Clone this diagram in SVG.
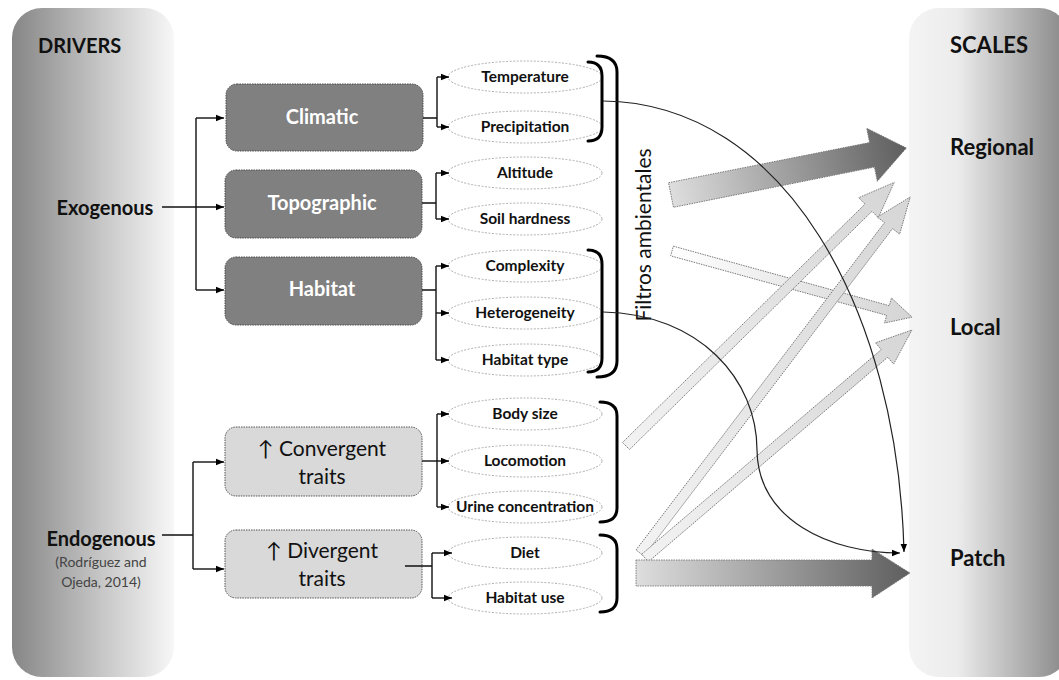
<svg xmlns="http://www.w3.org/2000/svg" width="1059" height="680" viewBox="0 0 1059 680">
<defs>
<linearGradient id="gLeft" x1="0" y1="0" x2="1" y2="0"><stop offset="0" stop-color="#868686"/><stop offset="0.55" stop-color="#c6c6c6"/><stop offset="1" stop-color="#f7f7f7"/></linearGradient>
<linearGradient id="gRight" x1="0" y1="0" x2="1" y2="0"><stop offset="0" stop-color="#f4f4f4"/><stop offset="0.3" stop-color="#ececec"/><stop offset="1" stop-color="#868686"/></linearGradient>
<linearGradient id="gDark" x1="0" y1="0" x2="1" y2="0"><stop offset="0" stop-color="#dedede"/><stop offset="1" stop-color="#5e5e5e"/></linearGradient>
<linearGradient id="gLight" x1="0" y1="0" x2="1" y2="0"><stop offset="0" stop-color="#ffffff"/><stop offset="1" stop-color="#d4d4d4"/></linearGradient>
<linearGradient id="gPale" x1="0" y1="0" x2="1" y2="0"><stop offset="0" stop-color="#f2f2f2"/><stop offset="1" stop-color="#d6d6d6"/></linearGradient>
<marker id="ah" viewBox="0 0 10 10" refX="10" refY="5" markerWidth="8" markerHeight="8" orient="auto" markerUnits="userSpaceOnUse"><path d="M0,1 L10,5 L0,9 z" fill="#000"/></marker>
</defs>
<style>
text{font-family:Lato,"Liberation Sans",sans-serif}
.hd{font-size:20px;font-weight:bold;fill:#111}
.sc{font-size:22px;font-weight:bold;fill:#111}
.dk rect{fill:#808080;stroke:#4a4a4a;stroke-width:1;stroke-dasharray:1.5,1}
.dk text{font-size:20px;font-weight:bold;fill:#fff;text-anchor:middle}
.lt rect{fill:#d9d9d9;stroke:#555;stroke-width:1;stroke-dasharray:1.5,1}
.lt text{font-size:21px;fill:#111;text-anchor:middle}
.el ellipse{fill:#fff;stroke:#b0b0b0;stroke-width:1;stroke-dasharray:2,1.5}
.el text{font-size:15.5px;font-weight:bold;fill:#111;text-anchor:middle}
.ln{fill:none;stroke:#111;stroke-width:1.4}
.br{fill:none;stroke:#000;stroke-width:3;stroke-linecap:round}
.fl{stroke:#777;stroke-width:0.9;stroke-dasharray:1.5,1}
.cv{fill:none;stroke:#222;stroke-width:1.2}
</style>
<rect x="0" y="0" width="1059" height="680" fill="#fff"/>
<g id="drivers-panel"><rect x="12" y="8" width="162" height="669" rx="30" fill="url(#gLeft)"/><text class="hd" x="38" y="53">DRIVERS</text></g>
<g id="scales-panel"><rect x="909" y="8" width="160" height="669" rx="30" fill="url(#gRight)"/><text class="sc" x="950" y="53" font-size="21">SCALES</text></g>
<g id="regional"><text class="sc" x="950" y="155">Regional</text></g>
<g id="local"><text class="sc" x="950" y="335">Local</text></g>
<g id="patch"><text class="sc" x="950" y="566">Patch</text></g>
<g id="exogenous"><text class="hd" x="105" y="215" text-anchor="middle">Exogenous</text></g>
<g id="endogenous"><text class="hd" x="101" y="546" text-anchor="middle">Endogenous</text><text x="101" y="567" text-anchor="middle" font-size="14" fill="#444">(Rodríguez and</text><text x="101" y="587" text-anchor="middle" font-size="14" fill="#444">Ojeda, 2014)</text></g>
<g id="climatic" class="dk"><rect x="226" y="84" width="197" height="67" rx="11"/><text x="322" y="124">Climatic</text></g>
<g id="topographic" class="dk"><rect x="225" y="170" width="197" height="68" rx="11"/><text x="322" y="210">Topographic</text></g>
<g id="habitat" class="dk"><rect x="225" y="257" width="197" height="68" rx="11"/><text x="322" y="296">Habitat</text></g>
<g id="convergent" class="lt"><rect x="225" y="427" width="197" height="69" rx="11"/><text x="322" y="456">↑ Convergent</text><text x="322" y="484">traits</text></g>
<g id="divergent" class="lt"><rect x="225" y="530" width="197" height="68" rx="11"/><text x="322" y="558">↑ Divergent</text><text x="322" y="586">traits</text></g>
<g id="temperature" class="el"><ellipse cx="525" cy="77" rx="77" ry="16"/><text x="525" y="82">Temperature</text></g>
<g id="precipitation" class="el"><ellipse cx="525" cy="127" rx="77" ry="16"/><text x="525" y="132">Precipitation</text></g>
<g id="altitude" class="el"><ellipse cx="525" cy="173" rx="77" ry="16"/><text x="525" y="178">Altitude</text></g>
<g id="soil-hardness" class="el"><ellipse cx="525" cy="219" rx="77" ry="16"/><text x="525" y="224">Soil hardness</text></g>
<g id="complexity" class="el"><ellipse cx="525" cy="266" rx="77" ry="16"/><text x="525" y="271">Complexity</text></g>
<g id="heterogeneity" class="el"><ellipse cx="525" cy="313" rx="77" ry="16"/><text x="525" y="318">Heterogeneity</text></g>
<g id="habitat-type" class="el"><ellipse cx="525" cy="360" rx="77" ry="16"/><text x="525" y="365">Habitat type</text></g>
<g id="body-size" class="el"><ellipse cx="525" cy="414" rx="77" ry="16"/><text x="525" y="419">Body size</text></g>
<g id="locomotion" class="el"><ellipse cx="525" cy="461" rx="77" ry="16"/><text x="525" y="466">Locomotion</text></g>
<g id="urine" class="el"><ellipse cx="525" cy="507" rx="77" ry="16"/><text x="525" y="512">Urine concentration</text></g>
<g id="diet" class="el"><ellipse cx="525" cy="553" rx="77" ry="16"/><text x="525" y="558">Diet</text></g>
<g id="habitat-use" class="el"><ellipse cx="525" cy="598" rx="77" ry="16"/><text x="525" y="603">Habitat use</text></g>
<g id="braces">
<path class="br" d="M588,62 Q602,62 602,76 V127 Q602,141 588,141"/>
<path class="br" d="M597,56 Q617,56 617,72 V361 Q617,377 597,377"/>
<path class="br" d="M588,250 Q602,250 602,264 V358 Q602,372 588,372"/>
<path class="br" d="M600,402 Q617,402 617,416 V508 Q617,522 600,522"/>
<path class="br" d="M600,535 Q617,535 617,549 V598 Q617,612 600,612"/>
</g>
<g id="filtros"><text x="0" y="0" font-size="21" fill="#111" text-anchor="middle" transform="translate(651,235) rotate(-90)">Filtros ambientales</text></g>
<g id="flows">
<polygon class="fl" fill="url(#gDark)" points="0,-12.5 205,-12.5 205,-27 240,0 205,27 205,12.5 0,12.5" transform="translate(671,195) rotate(-11.3)"/>
<polygon class="fl" fill="url(#gLight)" points="0,-5 224,-5 224,-13 249,0 224,13 224,5 0,5" transform="translate(672,251) rotate(15.4)"/>
<polygon class="fl" fill="url(#gPale)" points="0,-5 340,-5 340,-14 376,0 340,14 340,5 0,5" transform="translate(626,446) rotate(-44.5)"/>
<polygon class="fl" fill="url(#gPale)" points="0,-5 411,-5 411,-14 447,0 411,14 411,5 0,5" transform="translate(640,553) rotate(-52.8)"/>
<polygon class="fl" fill="url(#gPale)" points="0,-5 315,-5 315,-14 351,0 315,14 315,5 0,5" transform="translate(645,558) rotate(-40.5)"/>
<polygon class="fl" fill="url(#gDark)" points="636,560 872,560 872,549 910,573 872,598 872,586 636,586"/>
</g>
<g id="connectors">
<path class="ln" d="M162,207 H224" marker-end="url(#ah)"/>
<path class="ln" d="M196,118 V290"/>
<path class="ln" d="M196,118 H224" marker-end="url(#ah)"/>
<path class="ln" d="M196,290 H224" marker-end="url(#ah)"/>
<path class="ln" d="M423,118 H437 M437,77 V127"/>
<path class="ln" d="M437,77 H449" marker-end="url(#ah)"/>
<path class="ln" d="M437,127 H449" marker-end="url(#ah)"/>
<path class="ln" d="M422,203 H436 M436,173 V219"/>
<path class="ln" d="M436,173 H449" marker-end="url(#ah)"/>
<path class="ln" d="M436,219 H449" marker-end="url(#ah)"/>
<path class="ln" d="M422,290 H436 M436,266 V360"/>
<path class="ln" d="M436,266 H449" marker-end="url(#ah)"/>
<path class="ln" d="M436,313 H449" marker-end="url(#ah)"/>
<path class="ln" d="M436,360 H449" marker-end="url(#ah)"/>
<path class="ln" d="M162,535 H193 M193,462 V569"/>
<path class="ln" d="M193,462 H224" marker-end="url(#ah)"/>
<path class="ln" d="M193,569 H224" marker-end="url(#ah)"/>
<path class="ln" d="M422,461 H449" marker-end="url(#ah)"/>
<path class="ln" d="M437,414 V507"/>
<path class="ln" d="M437,414 H449" marker-end="url(#ah)"/>
<path class="ln" d="M437,507 H449" marker-end="url(#ah)"/>
<path class="ln" d="M405,566 H432 M432,553 V598"/>
<path class="ln" d="M432,553 H452" marker-end="url(#ah)"/>
<path class="ln" d="M432,598 H452" marker-end="url(#ah)"/>
<path class="cv" d="M603,101 C785,103 898,310 904,552" marker-end="url(#ah)"/>
<path class="cv" d="M603,312 C700,314 757,380 757,450 C758,520 830,553 900,553" marker-end="url(#ah)"/>
</g>
</svg>
